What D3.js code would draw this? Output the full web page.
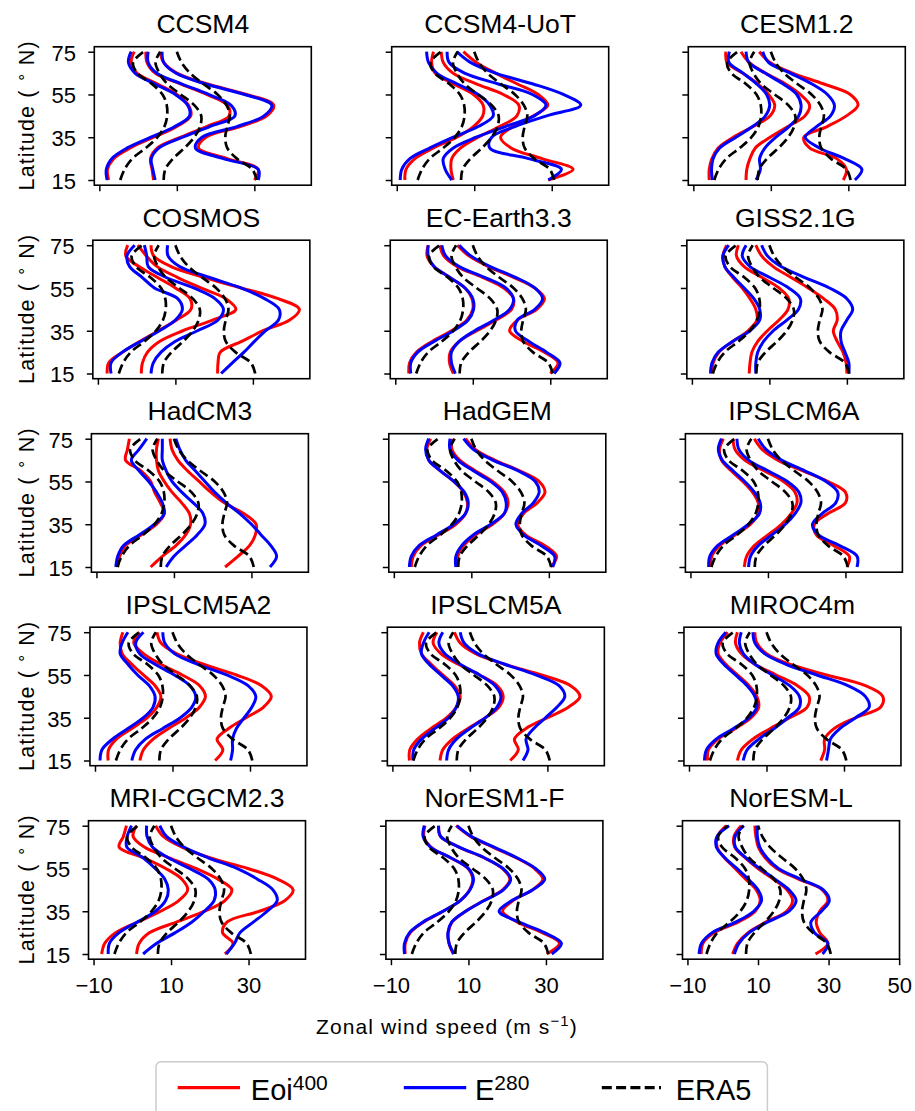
<!DOCTYPE html>
<html>
<head>
<meta charset="utf-8">
<script src="https://cdn.jsdelivr.net/npm/d3@7"></script>
<style>
  body { margin: 0; background: #fff; }
  text { font-family: "Liberation Sans", Arial, sans-serif; fill: #000; }
</style>
</head>
<body>
<svg id="fig" width="915" height="1111"></svg>
<script>
// panel titles, in reading order
var models = ["CCSM4", "CCSM4-UoT", "CESM1.2", "COSMOS", "EC-Earth3.3", "GISS2.1G",
  "HadCM3", "HadGEM", "IPSLCM6A", "IPSLCM5A2", "IPSLCM5A", "MIROC4m",
  "MRI-CGCM2.3", "NorESM1-F", "NorESM-L"];

var lats = [15, 20, 25, 30, 35, 40, 45, 50, 55, 60, 65, 70, 75];

// ERA5 reference, same in every panel (three levels: low, mid, upper)
var era5 = [
  [-4.6, -3.5, -1.5, 2.0, 5.0, 6.8, 7.5, 7.4, 6.3, 3.5, -0.2, -1.3, 1.4],
  [6.6, 7.0, 9.0, 12.0, 14.5, 16.0, 16.3, 14.5, 11.0, 7.5, 5.5, 4.5, 5.7],
  [30.6, 29.5, 25.5, 23.0, 22.5, 23.0, 23.7, 22.8, 20.5, 16.8, 13.4, 11.2, 10.0]
];

// Eoi400 (red), one [low, mid, upper] triple per model
var eoi400 = [
  [[-7.6,-7.9,-6.3,-2.0,4.0,10.0,13.6,13.0,10.0,4.9,-0.3,-1.8,-1.0],
   [4.0,3.6,3.2,5.0,11.0,17.7,23.5,23.0,17.7,10.9,4.4,2.3,2.0],
   [30.0,31.0,23.0,15.6,17.5,26.3,33.2,35.0,28.0,17.7,10.0,6.6,5.7]],
  [[-7.9,-7.6,-5.3,-0.5,5.5,9.8,12.2,12.3,9.8,4.6,-0.1,-1.0,-0.5],
   [4.6,4.0,4.2,6.5,11.0,16.5,21.0,21.5,17.5,10.5,4.5,2.0,1.5],
   [29.1,35.5,27.5,19.5,16.8,20.0,25.3,29.0,26.5,21.0,15.5,10.5,7.2]],
  [[-5.9,-5.9,-5.2,-3.6,0.3,5.4,9.8,11.0,9.4,6.6,2.7,-1.3,-1.6],
   [3.6,3.8,4.6,6.0,9.8,14.4,18.8,20.0,17.6,13.7,8.6,4.4,2.3],
   [28.7,29.5,27.0,20.0,18.5,24.5,29.5,32.5,30.5,23.5,15.6,9.8,7.0]],
  [[-7.6,-7.2,-3.6,0.8,5.6,10.3,14.0,13.8,10.0,5.3,0.6,-2.8,-2.3],
   [1.2,1.5,2.8,5.9,11.9,19.6,25.6,23.0,16.6,10.5,5.3,2.5,0.3],
   [20.9,21.0,21.6,27.1,32.6,39.5,42.0,36.5,27.0,17.3,8.9,4.4,3.7]],
  [[-6.5,-6.3,-4.5,-0.5,4.5,8.5,10.0,9.8,8.0,4.0,0.0,-1.8,-1.5],
   [5.0,4.0,4.2,6.5,11.0,16.0,20.0,20.5,18.0,12.5,6.0,2.5,1.5],
   [30.0,32.0,28.5,23.0,19.5,21.5,26.5,28.5,26.0,20.5,14.0,9.0,6.0]],
  [[-4.8,-4.5,-3.0,0.5,4.5,6.8,6.5,5.0,3.0,0.5,-1.5,-2.0,-1.0],
   [4.8,5.0,5.5,7.0,9.5,12.5,14.8,15.0,12.5,8.0,3.5,1.5,2.0],
   [30.0,29.8,29.0,27.5,26.5,27.5,27.0,24.0,20.0,15.5,11.0,8.0,6.5]],
  [[-4.5,-4.0,-2.5,1.5,5.5,7.5,6.5,5.0,4.0,1.5,-2.5,-2.0,-1.5],
   [4.0,7.0,10.5,13.0,14.3,14.0,12.0,9.5,7.5,6.0,5.5,5.5,6.0],
   [23.2,26.5,29.5,31.0,31.2,28.0,23.0,19.5,16.5,13.5,11.0,9.5,9.0]],
  [[-5.5,-5.0,-3.0,1.5,6.0,8.5,9.0,8.0,5.5,2.0,-1.0,-1.5,-0.5],
   [6.5,6.5,8.0,11.0,15.5,18.5,19.5,18.5,15.5,11.0,7.0,5.0,5.0],
   [30.5,32.0,29.0,24.0,22.0,23.5,27.0,29.0,27.5,22.5,16.0,11.0,8.5]],
  [[-4.8,-4.5,-2.5,1.5,5.5,7.5,7.5,6.0,3.5,0.5,-2.0,-2.5,-1.5],
   [3.9,4.5,6.5,10.0,13.5,16.0,17.5,17.0,14.0,9.0,4.0,1.5,1.0],
   [30.4,31.0,27.0,22.5,22.0,25.5,30.0,30.0,25.5,19.0,12.5,8.5,6.5]],
  [[-6.6,-6.5,-4.5,-0.5,3.5,6.0,7.0,5.5,2.5,-0.5,-3.0,-3.5,-2.8],
   [1.6,2.5,5.0,9.0,13.5,17.0,18.5,17.0,12.5,7.0,2.5,0.0,1.5],
   [21.0,23.0,21.5,24.5,29.0,33.5,35.5,33.0,26.5,18.0,11.0,7.0,6.0]],
  [[-5.6,-5.5,-3.5,0.0,4.0,6.5,7.5,6.0,3.0,0.0,-2.5,-3.0,-2.0],
   [2.3,3.0,5.5,9.5,14.0,17.5,18.6,17.0,12.5,7.0,2.5,0.5,1.5],
   [20.4,22.5,21.5,24.5,30.0,35.5,38.4,36.0,28.5,19.0,11.5,7.5,6.0]],
  [[-5.2,-5.0,-2.5,2.0,6.0,8.0,7.5,5.5,2.5,-0.5,-2.5,-2.0,0.0],
   [2.5,3.5,6.5,11.0,16.0,20.5,21.0,18.0,12.5,7.0,3.5,2.0,2.5],
   [24.0,25.0,25.0,27.5,33.0,39.5,40.0,35.5,25.5,16.0,10.0,7.5,7.0]],
  [[-7.9,-7.1,-4.3,1.5,7.3,12.0,14.3,12.8,8.6,2.9,-3.4,-2.3,-1.5],
   [1.1,1.8,4.5,11.5,18.7,23.9,25.7,22.1,16.4,9.5,3.1,0.2,1.1],
   [23.9,26.0,23.3,24.5,32.8,39.4,41.5,37.5,29.8,20.0,12.8,8.0,6.0]],
  [[-6.3,-6.3,-5.0,-1.5,3.5,7.9,10.3,11.1,9.9,5.4,0.3,-1.5,-1.2],
   [6.1,5.0,4.8,5.8,9.3,14.0,18.8,20.7,18.7,14.0,7.5,2.8,2.3],
   [30.2,33.5,29.0,22.5,18.8,21.5,26.5,29.2,27.0,22.3,16.3,10.5,6.8]],
  [[-6.1,-5.6,-2.4,4.5,9.2,10.6,9.5,6.5,3.5,0.5,-1.6,-1.5,1.0],
   [2.8,4.2,7.2,12.3,18.1,19.8,18.2,14.3,10.0,6.4,3.4,3.2,5.2],
   [26.3,29.8,27.5,26.5,27.5,29.8,28.2,21.5,15.3,12.0,10.1,9.4,9.1]]
];

// E280 (blue)
var e280 = [
  [[-8.0,-8.2,-6.8,-2.8,3.3,9.5,13.3,12.8,9.6,4.2,-0.8,-2.5,-1.8],
   [4.4,3.8,3.4,5.4,11.5,18.5,25.0,24.0,18.2,11.2,4.8,2.6,2.6],
   [31.0,31.0,22.0,14.8,16.5,25.5,32.5,34.5,27.5,17.2,9.7,6.6,6.2]],
  [[-9.1,-8.7,-6.6,-1.4,4.6,11.0,14.9,14.0,11.0,5.5,0.3,-1.8,-2.3],
   [4.2,2.5,2.0,4.6,10.5,18.0,25.5,28.5,25.0,16.0,7.5,3.5,3.0],
   [29.1,32.5,24.0,14.0,14.5,20.5,28.7,37.5,33.0,25.0,15.5,9.0,5.5]],
  [[-5.1,-5.3,-4.9,-3.2,1.0,5.3,8.6,9.7,8.9,6.3,2.8,-0.8,-0.7],
   [6.2,7.3,7.1,8.5,11.3,14.7,17.2,17.8,16.7,13.1,8.5,4.3,3.6],
   [31.7,33.5,29.0,22.5,18.9,21.8,25.4,26.4,24.6,20.5,15.0,9.4,7.9]],
  [[-6.6,-6.6,-3.7,1.0,5.9,10.0,11.8,10.6,4.6,1.4,-1.8,-2.5,-0.5],
   [3.7,4.3,6.3,9.9,15.7,21.0,22.4,20.2,14.7,7.5,3.0,2.6,2.0],
   [21.8,24.7,27.7,30.4,33.3,36.6,36.8,33.0,26.9,18.6,11.1,8.1,8.0]],
  [[-6.0,-6.0,-4.2,0.0,5.0,8.8,10.2,10.0,8.0,4.0,0.0,-1.5,-1.5],
   [5.5,4.5,4.5,6.5,10.5,15.5,19.5,20.5,18.5,13.0,6.5,3.0,2.0],
   [31.0,32.5,29.0,24.5,21.0,21.5,26.0,28.0,26.0,21.0,14.5,9.5,6.5]],
  [[-5.2,-4.8,-3.2,0.5,5.0,7.5,7.5,6.0,3.5,0.8,-1.5,-2.0,-0.5],
   [6.5,6.5,7.0,8.5,11.0,14.5,17.5,18.0,15.0,10.0,5.0,3.0,4.0],
   [30.5,30.5,29.5,28.5,28.5,30.0,31.5,30.0,25.5,19.0,13.0,9.5,8.0]],
  [[-5.0,-4.5,-3.0,1.0,5.0,7.5,7.0,5.5,3.5,1.0,-1.0,1.0,3.0],
   [8.0,10.0,13.0,16.0,18.0,17.5,15.0,12.0,9.5,8.0,7.0,7.0,7.0],
   [34.8,36.5,35.0,32.5,30.0,27.0,23.5,20.5,18.0,15.5,13.0,11.5,10.5]],
  [[-6.0,-5.5,-3.5,1.0,5.5,8.5,9.2,8.2,5.5,2.0,-1.0,-1.8,-1.0],
   [6.0,6.0,7.5,10.5,15.0,18.5,19.0,18.0,15.0,10.5,6.5,4.5,4.5],
   [31.0,31.5,28.0,23.5,21.5,23.0,26.0,27.5,26.5,22.0,15.5,10.5,8.0]],
  [[-5.3,-5.0,-3.0,1.0,5.0,7.8,8.0,6.5,4.0,1.0,-1.8,-2.8,-2.0],
   [5.0,5.5,7.5,11.0,14.5,17.0,18.5,18.0,15.0,10.0,5.0,2.5,2.0],
   [33.0,33.0,28.5,23.0,21.5,24.0,27.5,28.0,25.0,19.5,13.5,9.5,7.5]],
  [[-8.7,-8.2,-5.5,-1.5,2.5,5.0,5.5,4.0,1.0,-1.5,-3.5,-3.0,-1.5],
   [-0.5,0.5,3.0,7.5,12.0,15.0,16.0,14.5,10.5,5.5,1.5,0.5,2.5],
   [25.0,25.5,25.5,26.5,28.5,30.5,31.5,29.5,24.0,16.5,10.5,8.0,7.5]],
  [[-4.7,-4.5,-2.5,1.0,4.5,6.5,7.0,5.5,2.5,-0.5,-2.5,-2.0,-0.5],
   [4.0,4.5,6.5,10.0,14.0,17.0,18.0,16.5,12.5,7.5,3.5,2.0,3.0],
   [23.7,25.0,24.5,26.5,29.5,32.5,34.5,33.0,27.0,19.0,12.0,8.5,7.5]],
  [[-6.0,-5.5,-3.0,1.5,5.5,7.5,7.0,5.0,2.0,-1.0,-3.0,-2.5,-0.5],
   [4.0,5.0,8.0,12.0,15.5,18.5,18.5,16.0,11.5,7.0,4.0,3.0,3.5],
   [25.5,26.0,26.5,29.0,33.0,36.5,35.5,31.0,23.0,15.0,9.5,7.0,6.5]],
  [[-6.2,-5.9,-3.4,1.3,6.0,8.6,9.3,8.4,5.9,2.8,-1.4,-1.3,-0.2],
   [2.8,6.3,11.1,15.4,18.6,21.1,21.4,19.6,14.8,9.3,5.2,3.8,3.7],
   [24.3,26.4,27.8,31.3,34.8,37.4,36.3,32.3,27.0,19.6,13.3,8.8,7.1]],
  [[-6.5,-6.5,-5.2,-1.7,3.4,7.9,10.4,11.3,10.0,5.4,0.2,-1.7,-1.4],
   [6.3,5.0,4.7,5.7,9.3,14.1,19.0,20.9,18.9,14.1,7.6,2.8,2.3],
   [31.5,34.0,29.6,23.0,17.9,21.2,26.6,29.7,27.3,22.5,16.6,10.7,7.0]],
  [[-6.7,-6.0,-3.0,3.8,8.8,11.0,10.0,7.2,4.0,0.6,-1.8,-1.6,1.8],
   [3.3,4.6,7.5,12.8,18.8,20.8,18.8,14.8,10.5,6.6,3.6,3.5,6.0],
   [28.3,29.8,26.0,25.0,28.0,30.2,28.5,22.0,15.8,12.5,10.5,9.8,9.8]]
];

var yTicks = [15, 35, 55, 75];
var xTicks = [-10, 10, 30];
var xTicksLast = [-10, 10, 30, 50];

var svg = d3.select("#fig");

// grid of panels
var colLeft = [94.3, 391.7, 688.3],
    rowTop = 46.7,
    rowStep = 193.5,
    rowShift = -1.45,
    pw = 217,
    ph = 138.5;

var fmt = d3.format("d");

models.forEach(function(name, i) {
  var r = Math.floor(i / 3), c = i % 3;
  var left = colLeft[c] + rowShift * r,
      top = rowTop + rowStep * r;
  var last = (i === models.length - 1);

  var x = d3.scaleLinear()
      .domain(last ? [-11.4, 50.1] : [-11.3, 44.7])
      .range([0, pw]);
  var y = d3.scaleLinear()
      .domain([12.57, 77.34])
      .range([ph, 0]);

  var g = svg.append("g")
      .attr("transform", "translate(" + left + "," + top + ")");

  var line = d3.line()
      .x(function(d) { return x(d[1]); })
      .y(function(d) { return y(d[0]); })
      .curve(d3.curveCatmullRom.alpha(0.5));

  // model lines first, ERA5 dashed on top
  eoi400[i].forEach(function(p) {
    g.append("path").attr("d", line(d3.zip(lats, p)))
      .attr("fill", "none").attr("stroke", "#ff0000").attr("stroke-width", 3);
  });
  e280[i].forEach(function(p) {
    g.append("path").attr("d", line(d3.zip(lats, p)))
      .attr("fill", "none").attr("stroke", "#0000ff").attr("stroke-width", 3);
  });
  era5.forEach(function(p) {
    g.append("path").attr("d", line(d3.zip(lats, p)))
      .attr("fill", "none").attr("stroke", "#000").attr("stroke-width", 2.7)
      .attr("stroke-dasharray", "9.5,4.5");
  });

  // axes
  var yAxis = d3.axisLeft(y).tickValues(yTicks).tickSize(6).tickPadding(12.3)
      .tickFormat(c === 0 ? fmt : "");
  var xAxis = d3.axisBottom(x).tickValues(last ? xTicksLast : xTicks)
      .tickSize(6).tickPadding(12.4)
      .tickFormat(r === 4 ? fmt : "");

  var ya = g.append("g").call(yAxis);
  var xa = g.append("g").attr("transform", "translate(0," + ph + ")").call(xAxis);
  [ya, xa].forEach(function(a) {
    a.select(".domain").remove();
    a.selectAll("line").attr("stroke", "#000").attr("stroke-width", 1.5);
    a.selectAll("text").attr("font-size", 22)
      .attr("font-family", "Liberation Sans, Arial, sans-serif").attr("fill", "#000");
  });
  ya.selectAll("text").attr("dy", "0.38em");

  g.append("rect")
      .attr("width", pw).attr("height", ph)
      .attr("fill", "none").attr("stroke", "#000").attr("stroke-width", 1.6);

  g.append("text")
      .attr("x", pw / 2).attr("y", -13.4)
      .attr("text-anchor", "middle")
      .attr("font-size", 26.5)
      .text(name);

  if (c === 0) {
    var yl = g.append("text")
        .attr("transform", "translate(" + (34 - left) + "," + (ph / 2) + ") rotate(-90)")
        .attr("text-anchor", "middle")
        .attr("font-size", 21.5)
        .attr("textLength", 149)
        .attr("lengthAdjust", "spacing");
    yl.append("tspan").text("Latitude ( ");
    yl.append("tspan").attr("font-size", 15).attr("dy", -8).text("\u2218");
    yl.append("tspan").attr("dy", 8).text(" N)");
  }
});

// x label
var xl = svg.append("text")
    .attr("x", 447).attr("y", 1034.3)
    .attr("text-anchor", "middle")
    .attr("font-size", 21)
    .attr("letter-spacing", 1.1);
xl.append("tspan").text("Zonal wind speed (m s");
xl.append("tspan").attr("font-size", 15).attr("dy", -8).text("\u22121");
xl.append("tspan").attr("dy", 8).text(")");

// legend
var legendItems = [
  {label: "Eoi", sup: "400", color: "#ff0000", dash: null, x0: 177.7, x1: 240, tx: 250.8},
  {label: "E", sup: "280", color: "#0000ff", dash: null, x0: 403.8, x1: 466.2, tx: 475},
  {label: "ERA5", sup: null, color: "#000", dash: "10,4.3", x0: 601.8, x1: 661, tx: 675.7}
];

svg.append("rect")
    .attr("x", 156).attr("y", 1061.7)
    .attr("width", 611.4).attr("height", 70)
    .attr("rx", 5)
    .attr("fill", "#fff").attr("stroke", "#cccccc").attr("stroke-width", 1.5);

legendItems.forEach(function(d) {
  svg.append("line")
      .attr("x1", d.x0).attr("x2", d.x1)
      .attr("y1", 1087.7).attr("y2", 1087.7)
      .attr("stroke", d.color).attr("stroke-width", 3.2)
      .attr("stroke-dasharray", d.dash);
  var t = svg.append("text")
      .attr("x", d.tx).attr("y", 1100)
      .attr("font-size", 29);
  t.append("tspan").text(d.label);
  if (d.sup) {
    t.append("tspan").attr("font-size", 21).attr("dy", -10).text(d.sup);
  }
});
</script>
</body>
</html>
